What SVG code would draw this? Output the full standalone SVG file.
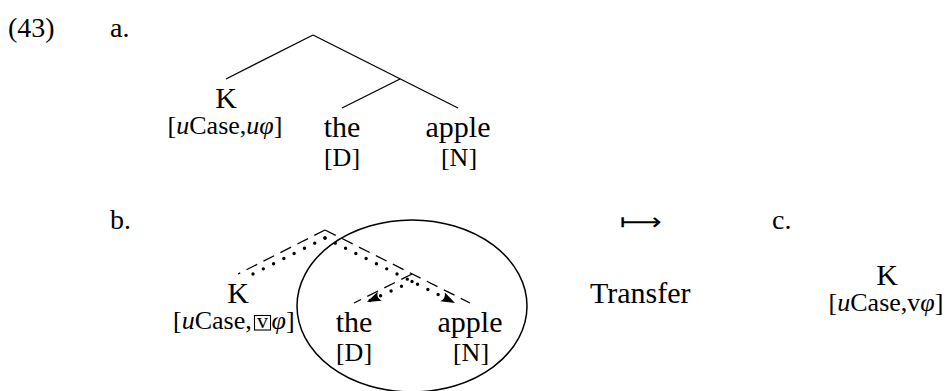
<svg xmlns="http://www.w3.org/2000/svg" width="945" height="391" viewBox="0 0 945 391">
<style>
.w{font-family:"Liberation Serif","Times New Roman",serif;font-size:30px;fill:#000}
.f{font-family:"Liberation Serif","Times New Roman",serif;font-size:26px;fill:#000}
.lab{font-family:"Liberation Serif","Times New Roman",serif;font-size:28px;fill:#000}
.c{text-anchor:middle}
.i{font-style:italic}
.solid{stroke:#000;stroke-width:1.3;fill:none}
.dash{stroke:#000;stroke-width:1.3;fill:none;stroke-dasharray:12 7}
.dot{stroke:#000;stroke-width:3.4;fill:none;stroke-linecap:round;stroke-dasharray:0 11.5}
</style>
<defs>
<marker id="ah" viewBox="0 0 14 11" refX="14" refY="5.5" markerWidth="14" markerHeight="11" markerUnits="userSpaceOnUse" orient="auto">
<path d="M14,5.5 L0,0.5 Q4,5.5 0,10.5 Z" fill="#000"/>
</marker>
</defs>
<rect width="945" height="391" fill="#fff"/>

<g id="labels">
<text class="lab" x="8" y="37">(43)</text>
<text class="lab" x="110" y="37">a.</text>
<text class="lab" x="110" y="229">b.</text>
<text class="lab" x="772" y="229">c.</text>
</g>

<g id="connectors">
<line class="solid" x1="313" y1="35" x2="226" y2="79"/>
<line class="solid" x1="313" y1="35" x2="458" y2="108"/>
<line class="solid" x1="400" y1="79" x2="342" y2="108"/>
<line class="dash" x1="325" y1="230" x2="238" y2="274"/>
<line class="dash" x1="325" y1="230" x2="470" y2="303"/>
<line class="dash" x1="412" y1="274" x2="354" y2="303"/>
<line class="dot" x1="325" y1="238" x2="251" y2="275"/>
<line class="dot" x1="325" y1="238" x2="455" y2="303" marker-end="url(#ah)"/>
<line class="dot" x1="412" y1="281.5" x2="367" y2="302" marker-end="url(#ah)"/>
</g>

<g id="a-K">
<text class="w c" x="226" y="108">K</text>
<text class="f c" x="225" y="134">[<tspan class="i">u</tspan>Case,<tspan class="i">u</tspan><tspan class="i">φ</tspan>]</text>
</g>
<g id="a-the">
<text class="w c" x="342" y="137">the</text>
<text class="f c" x="342" y="166">[D]</text>
</g>
<g id="a-apple">
<text class="w c" x="458" y="137">apple</text>
<text class="f c" x="459" y="166">[N]</text>
</g>

<g id="b-K">
<text class="w c" x="238" y="303">K</text>
<text class="f" x="173" y="329">[<tspan class="i">u</tspan>Case,</text>
<rect x="254.5" y="315.5" width="16" height="14.5" fill="none" stroke="#000" stroke-width="1.1"/>
<text class="f c" x="262.5" y="328" style="font-size:22px">v</text>
<text class="f" x="271.5" y="329"><tspan class="i">φ</tspan>]</text>
</g>
<g id="b-the">
<text class="w c" x="354" y="332">the</text>
<text class="f c" x="354" y="361">[D]</text>
</g>
<g id="b-apple">
<text class="w c" x="470" y="332">apple</text>
<text class="f c" x="471" y="361">[N]</text>
</g>
<g id="transfer-domain">
<ellipse cx="412" cy="306" rx="115" ry="86" fill="none" stroke="#000" stroke-width="1.5"/>
</g>

<g id="mapsto">
<text x="620" y="230" textLength="42" lengthAdjust="spacingAndGlyphs" style="font-family:'DejaVu Sans',sans-serif;font-size:24px">⟼</text>
</g>
<g id="transfer">
<text class="w" x="590" y="303">Transfer</text>
</g>
<g id="c-K">
<text class="w c" x="887" y="285">K</text>
<text class="f c" x="886" y="311">[<tspan class="i">u</tspan>Case,v<tspan class="i">φ</tspan>]</text>
</g>
</svg>
